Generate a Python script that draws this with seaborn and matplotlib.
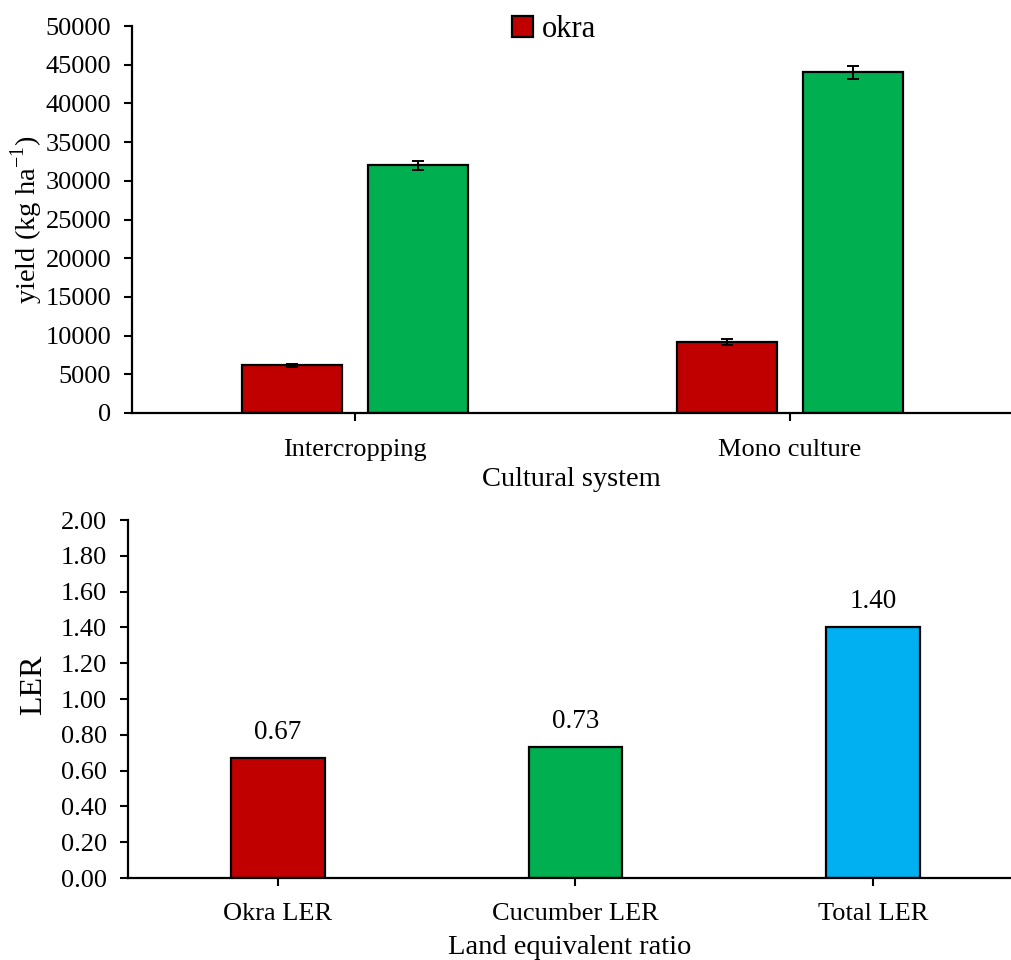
import matplotlib
matplotlib.use("Agg")
import matplotlib.pyplot as plt
import seaborn as sns
import pandas as pd
import numpy as np
from matplotlib.patches import Patch

# ---- data ----
systems = ["Intercropping", "Mono culture"]
crops = ["okra", "cucumber"]
okra_yield = [6150, 9200]
cucumber_yield = [32000, 44000]
okra_err = [150, 400]
cucumber_err = [600, 800]

ler_labels = ["Okra LER", "Cucumber LER", "Total LER"]
ler_values = [0.67, 0.73, 1.40]

yield_ticks = [0, 5000, 10000, 15000, 20000, 25000, 30000, 35000, 40000, 45000, 50000]
ler_ticks = [0.0, 0.2, 0.4, 0.6, 0.8, 1.0, 1.2, 1.4, 1.6, 1.8, 2.0]

RED = "#C00000"
GREEN = "#00B050"
BLUE = "#00B0F0"

sns.set_theme(style="white")
plt.rcParams["font.family"] = ["Liberation Serif", "DejaVu Serif"]
plt.rcParams["mathtext.fontset"] = "custom"
plt.rcParams["mathtext.rm"] = "Liberation Serif"
for k in ["text.color", "axes.labelcolor", "xtick.color", "ytick.color"]:
    plt.rcParams[k] = "black"

fig = plt.figure(figsize=(10.11, 9.6), dpi=100)

# ---------- top panel ----------
ax1 = fig.add_axes([0.1306, 0.5698, 1.0 - 0.1306, 0.4031])
df1 = pd.DataFrame({
    "system": systems * 2,
    "crop": [crops[0]] * 2 + [crops[1]] * 2,
    "yield": okra_yield + cucumber_yield,
})
sns.barplot(data=df1, x="system", y="yield", hue="crop", order=systems,
            hue_order=crops, palette=[RED, GREEN], width=0.58, gap=0.21,
            edgecolor="black", linewidth=1.6, errorbar=None, ax=ax1,
            saturation=1, legend=False)

errs = okra_err + cucumber_err
vals = okra_yield + cucumber_yield
for p, v, e in zip(ax1.patches, vals, errs):
    xc = p.get_x() + p.get_width() / 2
    ax1.errorbar(xc, v, yerr=e, fmt="none", ecolor="black", elinewidth=1.4,
                 capsize=4.5, capthick=1.4, zorder=5)

ax1.set_ylim(0, 50000)
ax1.set_yticks(yield_ticks)
ax1.set_yticklabels([str(t) for t in yield_ticks])
ax1.set_xlim(-0.5126, 1.508)
ax1.set_xlabel("Cultural system", fontsize=20.5, labelpad=4)
ax1.set_ylabel("yield (kg ha$^{-1}$)", fontsize=20.5, labelpad=0)
ax1.tick_params(axis="y", labelsize=19, direction="out", length=6, width=1.5,
                left=True, pad=9)
ax1.tick_params(axis="x", labelsize=19, direction="out", length=6, width=1.5,
                bottom=True, pad=13)
for s in ["top", "right"]:
    ax1.spines[s].set_visible(False)
for s in ["left", "bottom"]:
    ax1.spines[s].set_color("black")
    ax1.spines[s].set_linewidth(1.6)

leg = ax1.legend(handles=[Patch(facecolor=RED, edgecolor="black", linewidth=1.6, label="okra")],
                 loc="center", bbox_to_anchor=(0.48, 0.99), frameon=False,
                 fontsize=22, handlelength=0.7, handleheight=0.7, handletextpad=0.3,
                 borderaxespad=0)

# ---------- bottom panel ----------
ax2 = fig.add_axes([0.1266, 0.0854, 1.0 - 0.1266, 0.3729])
df2 = pd.DataFrame({"label": ler_labels, "ler": ler_values})
sns.barplot(data=df2, x="label", y="ler", hue="label", order=ler_labels,
            palette=[RED, GREEN, BLUE], width=0.315, edgecolor="black",
            linewidth=1.6, errorbar=None, ax=ax2, saturation=1, legend=False)
for c in ax2.containers:
    ax2.bar_label(c, fmt="%.2f", padding=9.5, fontsize=19.5)

ax2.set_ylim(0, 2.0)
ax2.set_yticks(ler_ticks)
ax2.set_yticklabels([f"{t:.2f}" for t in ler_ticks])
ax2.set_xlim(-0.504, 2.464)
ax2.set_xlabel("Land equivalent ratio", fontsize=20.5, labelpad=7)
ax2.set_ylabel("LER", fontsize=23)
ax2.yaxis.set_label_coords(-0.09, 0.54)
ax2.tick_params(axis="y", labelsize=19, direction="out", length=6, width=1.5,
                left=True, pad=9)
ax2.tick_params(axis="x", labelsize=19, direction="out", length=6, width=1.5,
                bottom=True, pad=12)
for s in ["top", "right"]:
    ax2.spines[s].set_visible(False)
for s in ["left", "bottom"]:
    ax2.spines[s].set_color("black")
    ax2.spines[s].set_linewidth(1.6)

fig.savefig("out.png", dpi=100)
